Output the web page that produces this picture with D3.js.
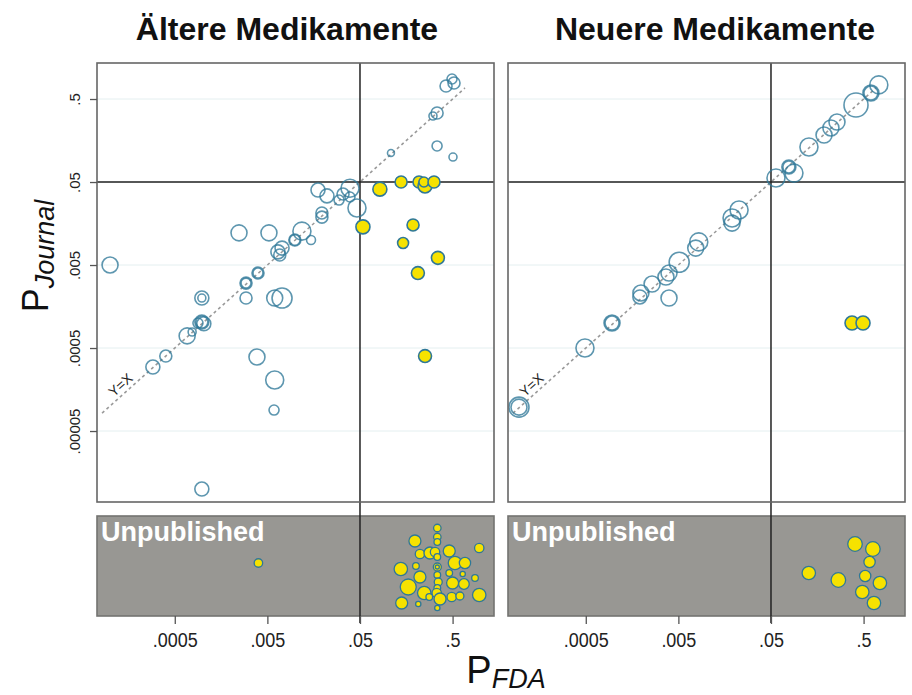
<!DOCTYPE html>
<html>
<head>
<meta charset="utf-8">
<script src="https://cdn.jsdelivr.net/npm/d3@7"></script>
<style>
  body { margin: 0; background: #fff; }
  text { font-family: "Liberation Sans", Arial, Helvetica, sans-serif; }
</style>
</head>
<body>
<svg id="chart"></svg>
<script>
// panel titles and axis ticks
const panelTitles = ["Ältere Medikamente", "Neuere Medikamente"];
const yTickValues = [0.5, 0.05, 0.005, 0.0005, 0.00005];
const yTickLabels = [".5", ".05", ".005", ".0005", ".00005"];
const xTickValues = [0.0005, 0.005, 0.05, 0.5];
const xTickLabels = [".0005", ".005", ".05", ".5"];

// older drugs, published trials: p in FDA review, p in journal, weight (circle area)
const olderFda = [0.0001, 0.00247, 0.0052, 0.0176, 0.022, 0.039, 0.0328, 0.0297, 0.039, 0.0464,
  0.0194, 0.0194, 0.0118, 0.0148, 0.0099, 0.0099, 0.0072, 0.0065, 0.0068, 0.00396,
  0.00396, 0.00294, 0.00294, 0.00294, 0.00098, 0.00098, 0.006, 0.0072, 0.00098, 0.00098,
  0.00103, 0.00089, 0.00077, 0.00068, 0.0004, 0.00029, 0.00386, 0.006, 0.0059, 0.00098,
  0.493, 0.518, 0.425, 0.34, 0.307, 0.34, 0.505, 0.108, 0.082, 0.139,
  0.217, 0.252, 0.245, 0.315, 0.0538, 0.187, 0.146, 0.347, 0.211, 0.252];
const olderJournal = [0.005, 0.0122, 0.0122, 0.04, 0.034, 0.042, 0.0358, 0.0303, 0.033, 0.0243,
  0.0212, 0.0189, 0.0128, 0.01, 0.01, 0.01, 0.008, 0.0072, 0.0066, 0.004,
  0.004, 0.00303, 0.00303, 0.002, 0.002, 0.002, 0.002, 0.002, 0.00103, 0.00103,
  0.00098, 0.001, 0.00078, 0.0007, 0.0004, 0.000295, 0.00039, 0.000206, 0.0000895, 0.00001,
  0.871, 0.78, 0.718, 0.339, 0.312, 0.136, 0.1, 0.112, 0.041, 0.05,
  0.05, 0.0448, 0.05, 0.05, 0.0144, 0.0152, 0.0092, 0.0061, 0.004, 0.0004];
const olderSize = [64, 64, 64, 49, 49, 81, 36, 25, 25, 81,
  36, 36, 81, 20, 36, 28, 49, 49, 36, 36,
  25, 36, 25, 36, 49, 16, 64, 100, 49, 36,
  49, 25, 16, 64, 36, 49, 64, 81, 25, 49,
  25, 36, 36, 36, 16, 25, 16, 12, 49, 36,
  36, 49, 25, 36, 49, 36, 30, 42, 42, 42];

// older drugs, unpublished trials: p in FDA review, vertical jitter (0-1), weight
const olderUnpubFda = [0.004, 0.342, 0.196, 0.342, 0.342, 0.97, 0.222, 0.285, 0.323, 0.46,
  0.342, 0.53, 0.68, 0.201, 0.342, 0.342, 0.138, 0.46, 0.643, 0.342,
  0.222, 0.873, 0.35, 0.5, 0.663, 0.166, 0.342, 0.247, 0.97, 0.337,
  0.489, 0.6, 0.28, 0.366, 0.141, 0.213, 0.342];
const olderUnpubJitter = [0.47, 0.12, 0.25, 0.21, 0.26, 0.32, 0.38, 0.37, 0.36, 0.35,
  0.41, 0.47, 0.47, 0.5, 0.51, 0.51, 0.53, 0.57, 0.58, 0.59,
  0.61, 0.62, 0.66, 0.67, 0.68, 0.71, 0.72, 0.77, 0.79, 0.77,
  0.81, 0.8, 0.81, 0.83, 0.87, 0.88, 0.92];
const olderUnpubSize = [18, 14, 36, 14, 11, 22, 22, 36, 22, 36,
  11, 45, 32, 11, 16, 4, 45, 11, 7, 11,
  36, 11, 16, 36, 28, 64, 11, 45, 45, 22,
  22, 16, 11, 36, 36, 7, 7];

// newer drugs, published trials
const newerFda = [0.000095, 0.000095, 0.00049, 0.00096, 0.00096, 0.00192, 0.00197, 0.00396, 0.0026, 0.00367,
  0.00396, 0.0051, 0.0083, 0.0077, 0.019, 0.0226, 0.019, 0.0566, 0.078, 0.078,
  0.0885, 0.1285, 0.187, 0.222, 0.258, 0.414, 0.6, 0.6, 0.73, 0.375, 0.493];
const newerJournal = [0.000097, 0.000097, 0.0005, 0.001, 0.001, 0.00206, 0.0023, 0.002, 0.00295, 0.00358,
  0.004, 0.0054, 0.0095, 0.008, 0.0184, 0.023, 0.016, 0.0558, 0.076, 0.076,
  0.064, 0.132, 0.184, 0.224, 0.264, 0.424, 0.59, 0.59, 0.74, 0.001, 0.001];
const newerSize = [100, 64, 81, 64, 49, 49, 64, 64, 64, 64,
  64, 100, 81, 64, 81, 81, 64, 81, 49, 36,
  81, 81, 64, 64, 64, 144, 64, 49, 81, 49, 49];

// newer drugs, unpublished trials
const newerUnpubFda = [0.404, 0.63, 0.58, 0.128, 0.267, 0.52, 0.75, 0.484, 0.647];
const newerUnpubJitter = [0.28, 0.33, 0.46, 0.57, 0.64, 0.6, 0.67, 0.76, 0.87];
const newerUnpubSize = [53, 53, 32, 45, 53, 32, 45, 45, 45];

// ---- layout ----
const W = 912, H = 695;
const panelLeft = [97, 508];
const panelW = 397;
const plotTop = 63, plotBottom = 502, unpTop = 516, unpBottom = 616;
const cut = 0.05;

const svg = d3.select('#chart').attr('width', W).attr('height', H);

// scales shared by both panels
const x = d3.scaleLog().domain([7.23e-5, 1.4]).range([0, panelW]);
const y = d3.scaleLog().domain([6.98e-6, 1.358]).range([plotBottom, plotTop]);
const jitterY = d3.scaleLinear().domain([0, 1]).range([unpTop, unpBottom]);
const r = d3.scaleSqrt().domain([0, 144]).range([0, 12]);

const build = (fda, other, size) => fda.map((d, i) => ({ fda: d, other: other[i], size: size[i] }));

const panels = [
  { pub: build(olderFda, olderJournal, olderSize), unpub: build(olderUnpubFda, olderUnpubJitter, olderUnpubSize) },
  { pub: build(newerFda, newerJournal, newerSize), unpub: build(newerUnpubFda, newerUnpubJitter, newerUnpubSize) }
];

const teal = '#2f7898';
const yellow = '#f6e200';

panels.forEach(function(p, k) {
  const g = svg.append('g').attr('transform', `translate(${panelLeft[k]},0)`);

  // title
  g.append('text')
    .attr('x', k === 0 ? 190 : 207)
    .attr('y', 40)
    .attr('text-anchor', 'middle')
    .attr('font-size', 32)
    .attr('font-weight', 'bold')
    .attr('fill', '#111')
    .text(panelTitles[k]);

  // plot background + faint gridlines
  g.append('rect').attr('x', 0).attr('y', plotTop).attr('width', panelW).attr('height', plotBottom - plotTop)
    .attr('fill', '#fff');
  g.selectAll('.grid').data(yTickValues).join('line')
    .attr('x1', 0).attr('x2', panelW)
    .attr('y1', d => y(d)).attr('y2', d => y(d))
    .attr('stroke', '#e4eff0').attr('stroke-width', 1);

  // unpublished band
  g.append('rect').attr('x', 0).attr('y', unpTop).attr('width', panelW).attr('height', unpBottom - unpTop)
    .attr('fill', '#989793').attr('stroke', '#737371').attr('stroke-width', 1.6);
  g.append('text')
    .attr('x', 4).attr('y', 541)
    .attr('font-size', 27).attr('font-weight', 'bold').attr('fill', '#fff')
    .text('Unpublished');

  // y = x reference line
  const lo = 8.2e-5, hi = 0.68;
  g.append('line')
    .attr('x1', x(lo)).attr('y1', y(lo)).attr('x2', x(hi)).attr('y2', y(hi))
    .attr('stroke', '#9a9a9a').attr('stroke-width', 1.6).attr('stroke-dasharray', '3,3');
  const lx = 0.00015;
  const angle = Math.atan2(y(hi) - y(lo), x(hi) - x(lo)) * 180 / Math.PI;
  g.append('text')
    .attr('transform', `translate(${x(lx)},${y(lx)}) rotate(${angle})`)
    .attr('dy', -4)
    .attr('text-anchor', 'middle')
    .attr('font-size', 14).attr('fill', '#222')
    .text('Y=X');

  // significance lines at p = .05
  g.append('line').attr('x1', 0).attr('x2', panelW).attr('y1', y(cut)).attr('y2', y(cut))
    .attr('stroke', '#222').attr('stroke-width', 1.5);
  g.append('line').attr('x1', x(cut)).attr('x2', x(cut)).attr('y1', plotTop).attr('y2', unpBottom + 7)
    .attr('stroke', '#222').attr('stroke-width', 1.5);

  // published trials
  g.selectAll('.pub').data(p.pub).join('circle')
    .attr('cx', d => x(d.fda))
    .attr('cy', d => y(d.other))
    .attr('r', d => r(d.size))
    .attr('fill', d => (d.fda > cut && d.other <= cut) ? yellow : 'none')
    .attr('stroke', teal)
    .attr('stroke-opacity', d => (d.fda > cut && d.other <= cut) ? 1 : 0.78)
    .attr('stroke-width', 1.6);

  // unpublished trials
  g.selectAll('.unpub').data(p.unpub).join('circle')
    .attr('cx', d => x(d.fda))
    .attr('cy', d => jitterY(d.other))
    .attr('r', d => r(d.size))
    .attr('fill', yellow)
    .attr('stroke', teal)
    .attr('stroke-width', 1.3);

  // frame of the published area
  g.append('rect').attr('x', 0).attr('y', plotTop).attr('width', panelW).attr('height', plotBottom - plotTop)
    .attr('fill', 'none').attr('stroke', '#666').attr('stroke-width', 1.6);

  // x axis under the band
  const xAxis = g.append('g')
    .attr('transform', `translate(0,${unpBottom})`)
    .call(d3.axisBottom(x).tickValues(xTickValues).tickFormat((d, i) => xTickLabels[i]).tickSize(8));
  xAxis.select('.domain').remove();
  xAxis.selectAll('line').attr('stroke', '#555').attr('stroke-width', 1.3);
  xAxis.selectAll('text')
    .attr('y', null).attr('dy', null)
    .attr('transform', 'translate(0,31) scale(1,1.15)')
    .attr('font-size', 18).attr('fill', '#222')
    .style('font-family', '"Liberation Sans", Arial, sans-serif');

  // y axis on the left panel only
  if (k === 0) {
    const yAxis = g.append('g')
      .call(d3.axisLeft(y).tickValues(yTickValues).tickFormat((d, i) => yTickLabels[i]).tickSize(7));
    yAxis.select('.domain').remove();
    yAxis.selectAll('line').attr('stroke', '#555').attr('stroke-width', 1.3);
    yAxis.selectAll('text')
      .attr('x', null).attr('dy', null)
      .attr('text-anchor', 'middle')
      .attr('transform', 'translate(-17,0) rotate(-90)')
      .attr('font-size', 15).attr('fill', '#222')
      .style('font-family', '"Liberation Sans", Arial, sans-serif');
  }
});

// axis titles
const yTitle = svg.append('text')
  .attr('transform', 'translate(48,256) rotate(-90)')
  .attr('text-anchor', 'middle')
  .attr('fill', '#111');
yTitle.append('tspan').attr('font-size', 36).text('P');
yTitle.append('tspan').attr('font-size', 27).attr('font-style', 'italic').attr('dy', 6).text('Journal');

const xTitle = svg.append('text')
  .attr('transform', 'translate(506,683)')
  .attr('text-anchor', 'middle')
  .attr('fill', '#111');
xTitle.append('tspan').attr('font-size', 38).text('P');
xTitle.append('tspan').attr('font-size', 27).attr('font-style', 'italic').attr('dy', 5).text('FDA');
</script>
</body>
</html>
